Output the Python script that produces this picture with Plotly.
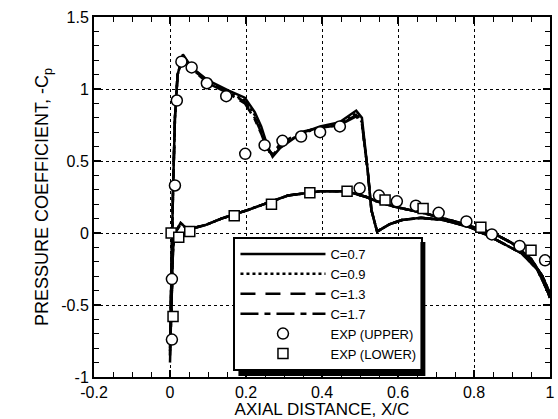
import plotly.graph_objects as go

# ---- data ----
X_UPPER = [0.0, 0.003, 0.008, 0.013, 0.02, 0.034, 0.057, 0.10, 0.153, 0.197, 0.223, 0.24, 0.257,
           0.27, 0.29, 0.343, 0.395, 0.447, 0.49, 0.505, 0.52, 0.53, 0.545, 0.577, 0.61, 0.66,
           0.72, 0.79, 0.86, 0.925, 0.966, 0.993, 1.0]
Y_UPPER_C07 = [-0.80, -0.30, 0.30, 0.80, 1.10, 1.24, 1.15, 1.06, 0.99, 0.94, 0.84, 0.74, 0.60,
               0.53, 0.59, 0.69, 0.74, 0.77, 0.85, 0.80, 0.44, 0.16, 0.01, 0.06, 0.09, 0.105,
               0.09, 0.04, -0.05, -0.14, -0.25, -0.40, -0.45]
Y_UPPER_C09 = [-0.82, -0.30, 0.30, 0.80, 1.10, 1.23, 1.15, 1.05, 0.98, 0.92, 0.82, 0.72, 0.59,
               0.54, 0.60, 0.69, 0.73, 0.76, 0.83, 0.77, 0.44, 0.16, 0.01, 0.06, 0.09, 0.105,
               0.09, 0.04, -0.05, -0.14, -0.25, -0.40, -0.45]
Y_UPPER_C13 = [-0.85, -0.30, 0.30, 0.80, 1.10, 1.22, 1.14, 1.05, 0.98, 0.91, 0.80, 0.70, 0.58,
               0.55, 0.61, 0.70, 0.73, 0.75, 0.82, 0.76, 0.44, 0.16, 0.01, 0.06, 0.09, 0.105,
               0.09, 0.04, -0.05, -0.14, -0.25, -0.40, -0.45]
Y_UPPER_C17 = [-0.90, -0.30, 0.30, 0.80, 1.10, 1.22, 1.14, 1.04, 0.97, 0.90, 0.79, 0.69, 0.57,
               0.55, 0.62, 0.70, 0.73, 0.75, 0.81, 0.76, 0.44, 0.16, 0.01, 0.06, 0.09, 0.105,
               0.09, 0.04, -0.05, -0.14, -0.25, -0.40, -0.45]

X_LOWER = [0.0, 0.004, 0.008, 0.013, 0.02, 0.028, 0.04, 0.055, 0.093, 0.135, 0.205, 0.29, 0.31,
           0.395, 0.465, 0.517, 0.543, 0.595, 0.665, 0.75, 0.85, 0.9, 0.95, 0.98, 1.0]
Y_LOWER_C07 = [-0.80, -0.50, -0.10, 0.00, 0.03, 0.07, 0.04, 0.03, 0.055, 0.10, 0.16, 0.24, 0.26,
               0.29, 0.29, 0.25, 0.22, 0.18, 0.14, 0.08, 0.0, -0.07, -0.18, -0.30, -0.42]
Y_LOWER_C09 = [-0.82, -0.50, -0.10, 0.00, 0.03, 0.07, 0.04, 0.03, 0.055, 0.10, 0.16, 0.24, 0.26,
               0.29, 0.29, 0.25, 0.22, 0.18, 0.14, 0.08, 0.0, -0.07, -0.18, -0.30, -0.42]
Y_LOWER_C13 = [-0.85, -0.50, -0.10, 0.00, 0.03, 0.06, 0.04, 0.03, 0.055, 0.10, 0.16, 0.24, 0.26,
               0.29, 0.29, 0.25, 0.22, 0.18, 0.14, 0.08, 0.0, -0.07, -0.18, -0.30, -0.42]
Y_LOWER_C17 = [-0.90, -0.50, -0.10, 0.00, 0.03, 0.06, 0.04, 0.03, 0.055, 0.10, 0.16, 0.24, 0.26,
               0.29, 0.29, 0.25, 0.22, 0.18, 0.14, 0.08, 0.0, -0.07, -0.18, -0.30, -0.42]

EXP_UPPER_X = [0.005, 0.005, 0.013, 0.018, 0.03, 0.057, 0.097, 0.148, 0.198, 0.249, 0.296, 0.345,
               0.395, 0.447, 0.499, 0.55, 0.597, 0.647, 0.707, 0.78, 0.847, 0.92, 0.987]
EXP_UPPER_Y = [-0.74, -0.32, 0.33, 0.92, 1.19, 1.15, 1.04, 0.95, 0.55, 0.61, 0.64, 0.67,
               0.70, 0.74, 0.31, 0.26, 0.22, 0.19, 0.14, 0.08, -0.01, -0.09, -0.19]
EXP_LOWER_X = [0.003, 0.008, 0.023, 0.052, 0.169, 0.267, 0.368, 0.466, 0.566, 0.666, 0.818, 0.95]
EXP_LOWER_Y = [0.0, -0.58, -0.03, 0.01, 0.12, 0.20, 0.28, 0.29, 0.23, 0.17, 0.04, -0.12]

SERIES = [
    ("C=0.7", Y_UPPER_C07, Y_LOWER_C07, "solid"),
    ("C=0.9", Y_UPPER_C09, Y_LOWER_C09, "dot"),
    ("C=1.3", Y_UPPER_C13, Y_LOWER_C13, "15px,10px"),
    ("C=1.7", Y_UPPER_C17, Y_LOWER_C17, "18px,6px,6px,6px"),
]

X_TICKS = [-0.2, 0, 0.2, 0.4, 0.6, 0.8, 1]
X_TICK_TEXT = ["-0.2", "0", "0.2", "0.4", "0.6", "0.8", "1"]
Y_TICKS = [-1, -0.5, 0, 0.5, 1, 1.5]
Y_TICK_TEXT = ["-1", "-0.5", "0", "0.5", "1", "1.5"]

FONT = "Liberation Sans, Arial, sans-serif"

fig = go.Figure()
for name, yu, yl, dash in SERIES:
    xs = X_UPPER[::-1] + X_LOWER[1:]
    ys = yu[::-1] + yl[1:]
    fig.add_trace(go.Scatter(x=xs, y=ys, mode="lines", name=name,
                             line=dict(color="black", width=2.5, dash=dash)))

fig.add_trace(go.Scatter(x=EXP_UPPER_X, y=EXP_UPPER_Y, mode="markers", name="EXP (UPPER)",
                         marker=dict(symbol="circle", size=11, color="white",
                                     line=dict(color="black", width=1.5))))
fig.add_trace(go.Scatter(x=EXP_LOWER_X, y=EXP_LOWER_Y, mode="markers", name="EXP (LOWER)",
                         marker=dict(symbol="square", size=10, color="white",
                                     line=dict(color="black", width=1.5))))

# layout geometry (pixels) for legend placement
PL, PR, PT, PB = 94, 555, 17, 377
def px_x(p):
    return (p - PL) / (PR - PL)
def px_y(p):
    return (PB - p) / (PB - PT)

LEG_L, LEG_T = 235, 237
LEG_R, LEG_B = 424, 371   # estimated rendered legend box extent
SHADOW = 5

# legend drop shadow, then a white panel behind the (transparent) legend box
fig.add_shape(type="rect", xref="paper", yref="paper",
              x0=px_x(LEG_L + SHADOW), x1=px_x(LEG_R + SHADOW),
              y0=px_y(LEG_B + SHADOW), y1=px_y(LEG_T + SHADOW),
              fillcolor="black", line=dict(width=0), layer="above")
fig.add_shape(type="rect", xref="paper", yref="paper",
              x0=px_x(LEG_L), x1=px_x(LEG_R),
              y0=px_y(LEG_B), y1=px_y(LEG_T),
              fillcolor="white", line=dict(width=0), layer="above")

axis_common = dict(showline=True, linecolor="black", linewidth=2, mirror="ticks",
                   ticks="inside", ticklen=7, tickwidth=1.5, tickcolor="black",
                   showgrid=True, gridcolor="black", gridwidth=1, griddash="dot",
                   zeroline=False, tickfont=dict(family=FONT, size=16, color="black"))

fig.update_xaxes(range=[-0.2, 1.0], tickvals=X_TICKS, ticktext=X_TICK_TEXT,
                 minor=dict(dtick=0.05, ticks="inside", ticklen=5, tickcolor="black",
                            tickwidth=1.2, showgrid=False),
                 title=dict(text="AXIAL DISTANCE, X/C", font=dict(family=FONT, size=17, color="black"),
                            standoff=2),
                 **axis_common)
fig.update_yaxes(range=[-1.0, 1.5], tickvals=Y_TICKS, ticktext=Y_TICK_TEXT,
                 minor=dict(dtick=0.1, ticks="inside", ticklen=5, tickcolor="black",
                            tickwidth=1.2, showgrid=False),
                 title=dict(text="PRESSURE COEFFICIENT, -C<sub>p</sub>",
                            font=dict(family=FONT, size=18, color="black"), standoff=8),
                 **axis_common)

fig.update_layout(
    width=558, height=419,
    margin=dict(l=PL, r=558 - PR, t=PT, b=419 - PB),
    paper_bgcolor="white", plot_bgcolor="white",
    font=dict(family=FONT, size=15, color="black"),
    legend=dict(x=px_x(LEG_L), y=px_y(LEG_T), xanchor="left", yanchor="top",
                bgcolor="rgba(0,0,0,0)", bordercolor="black", borderwidth=2,
                itemwidth=85, tracegroupgap=0,
                font=dict(family=FONT, size=13, color="black")),
)

fig.write_html("out.html")
